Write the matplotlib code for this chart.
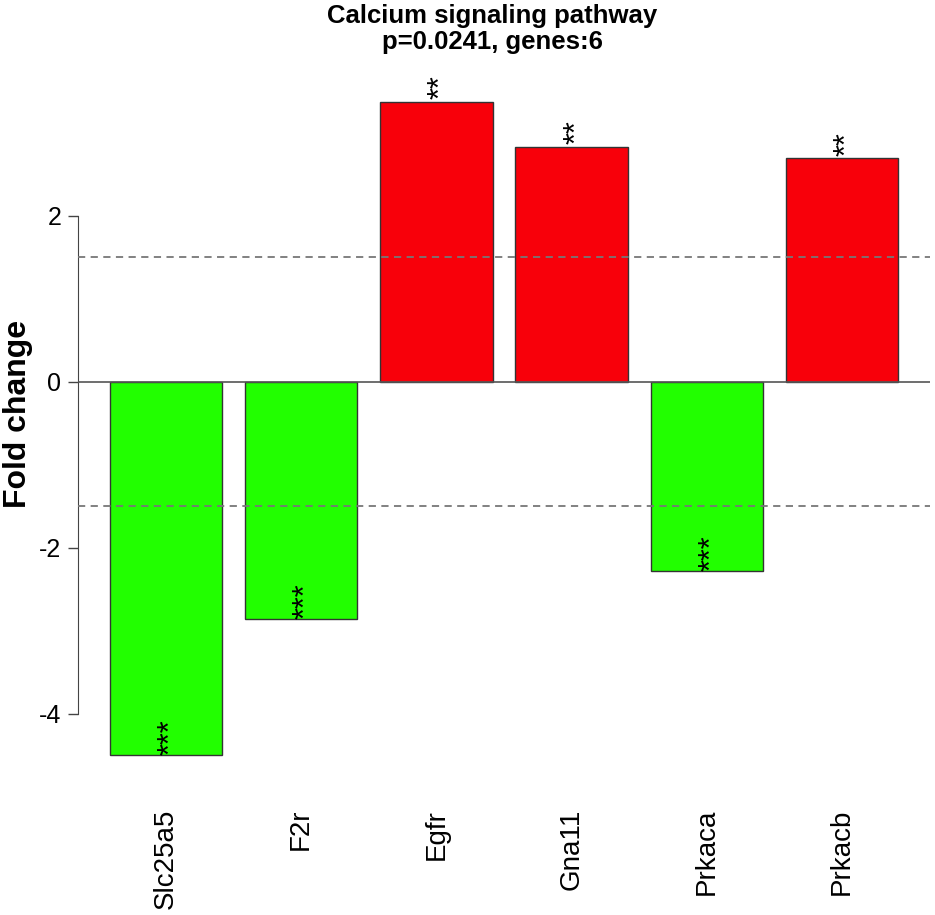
import numpy as np
import matplotlib
matplotlib.use("Agg")
from matplotlib import pyplot as plt

matplotlib.rcParams.update({
    'font.family': ['Liberation Sans', 'DejaVu Sans'],
})

# data
genes = ['Slc25a5', 'F2r', 'Egfr', 'Gna11', 'Prkaca', 'Prkacb']
fold_change = [-4.50, -2.86, 3.37, 2.83, -2.28, 2.69]
stars = ['***', '***', '**', '**', '***', '**']
threshold = 1.5
y_ticks = [-4, -2, 0, 2]
title = 'Calcium signaling pathway\np=0.0241, genes:6'

W, H = 935, 915
fig = plt.figure(figsize=(W / 100, H / 100), dpi=100)
# plot region in pixels (R style device)
left, right, top, bottom = 78, 930, 77, 781
ax = fig.add_axes([left / W, 1 - bottom / H, (right - left) / W, (bottom - top) / H])

# R barplot geometry: width 1, space 0.2
x = 0.7 + 1.2 * np.arange(len(genes))
colors = ['#F8000A' if v > 0 else '#22FF00' for v in fold_change]
ax.bar(x, fold_change, width=1.0, color=colors, edgecolor='#333333', linewidth=1.0, zorder=2)

ax.set_xlim(-0.08, 7.48)
ax.set_ylim(-4.81, 3.67)

# reference lines
ax.axhline(0, color='#555555', linewidth=1.2, zorder=3)
for h in (threshold, -threshold):
    ax.axhline(h, color='#777777', linewidth=1.3, linestyle=(0, (4, 3)), zorder=3)

# significance stars (glyph sits high in its box, so nudge right to centre it)
for xi, v, s in zip(x, fold_change, stars):
    ax.annotate(s, (xi, v), xytext=(4, 2 if v > 0 else 0), textcoords='offset points',
                rotation=90, ha='center', va='bottom', fontsize=22, zorder=4)

# axes styling, R look
for sp in ['top', 'right', 'bottom']:
    ax.spines[sp].set_visible(False)
ax.spines['left'].set_bounds(min(y_ticks), max(y_ticks))
ax.spines['left'].set_color('#444444')
ax.set_yticks(y_ticks)
ax.set_yticklabels([str(t) for t in y_ticks], fontsize=18)
ax.tick_params(axis='y', length=7, width=1, color='#444444', pad=5)

ax.set_xticks(x)
ax.set_xticklabels(genes, rotation=90, fontsize=20)
ax.tick_params(axis='x', length=0, pad=20)

fig.text(18 / W, 1 - 414 / H, 'Fold change', rotation=90, fontsize=23,
         fontweight='bold', ha='center', va='center')
fig.text(492 / W, 1 - 4 / H, title, fontsize=18.5, fontweight='bold',
         ha='center', va='top', linespacing=1.1)

fig.savefig('out.png', dpi=100, facecolor='white')
